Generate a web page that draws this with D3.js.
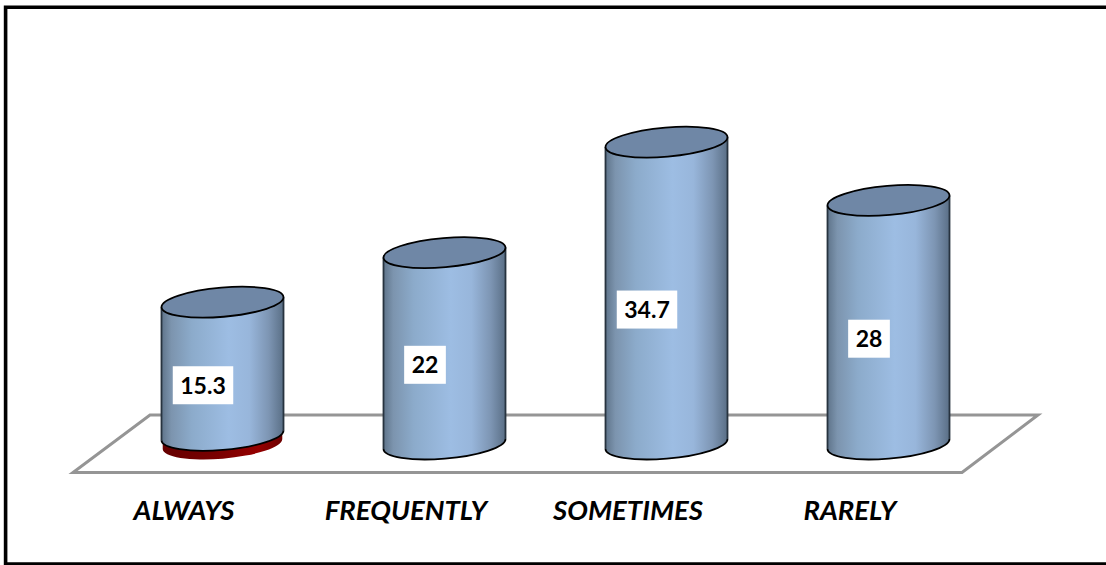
<!DOCTYPE html>
<html>
<head>
<meta charset="utf-8">
<script src="https://cdn.jsdelivr.net/npm/d3@7"></script>
<style>
  html, body { margin: 0; padding: 0; background: #fff; overflow: hidden; }
  svg { display: block; }
</style>
</head>
<body>
<div id="chart"></div>
<script>
const categories = ['ALWAYS', 'FREQUENTLY', 'SOMETIMES', 'RARELY'];
const values = [15.3, 22, 34.7, 28];
// small red segment that only shows under the first cylinder
const lowerValues = [1, 0, 0, 0];

const W = 1106;
const H = 565;
const svg = d3.select('#chart').append('svg')
  .attr('width', W)
  .attr('height', H)
  .attr('viewBox', `0 0 ${W} ${H}`);

const x = d3.scaleBand().domain(categories).range([111.5, 999.5]);
const y = d3.scaleLinear().domain([0, 40]).range([444, 96]);

// ellipse of the cylinder caps, slightly tilted
const HALF = 61;
const RX = 61.2;
const RY = 14.6;
const TILT = -4.9;
const DY = 5;

const defs = svg.append('defs');
function hGradient(id, stops) {
  const g = defs.append('linearGradient').attr('id', id)
    .attr('x1', 0).attr('x2', 1).attr('y1', 0).attr('y2', 0);
  stops.forEach(s => g.append('stop').attr('offset', s[0]).attr('stop-color', s[1]));
}
hGradient('bodyBlue', [
  [0, '#5f748a'], [0.08, '#7c94ae'], [0.25, '#8cabcb'], [0.55, '#9dbde3'],
  [0.72, '#98b6db'], [0.88, '#7d95b3'], [1, '#5a6f86']
]);
hGradient('bodyRed', [
  [0, '#650000'], [0.5, '#7c0000'], [0.8, '#960000'], [1, '#6c0000']
]);

// floor
const floorPts = [[73, 472.5], [962, 472.5], [1038, 415], [150, 415]];
svg.append('path')
  .attr('d', d3.line()(floorPts) + 'Z')
  .attr('fill', '#fff')
  .attr('stroke', '#959595')
  .attr('stroke-width', 3)
  .attr('stroke-linejoin', 'miter');

const centre = d => x(d) + x.bandwidth() / 2;

function bodyPath(cx, yBase, yTop) {
  return `M${cx - HALF},${yTop + DY}L${cx - HALF},${yBase + DY}` +
    `A${RX},${RY} ${TILT} 0 0 ${cx + HALF},${yBase - DY}` +
    `L${cx + HALF},${yTop - DY}Z`;
}

// red lower segment
categories.forEach((c, i) => {
  if (!lowerValues[i]) return;
  svg.append('path')
    .attr('d', bodyPath(centre(c), y(0), y(lowerValues[i])))
    .attr('transform', `translate(${centre(c)},0) scale(0.98,1) translate(${-centre(c)},0)`)
    .attr('fill', 'url(#bodyRed)');
});

// blue cylinders
categories.forEach((c, i) => {
  const cx = centre(c);
  const yBase = y(lowerValues[i]);
  const yTop = y(lowerValues[i] + values[i]);
  const g = svg.append('g');
  g.append('path')
    .attr('d', bodyPath(cx, yBase, yTop))
    .attr('fill', 'url(#bodyBlue)');
  g.append('path')
    .attr('d', `M${cx - HALF},${yBase + DY}A${RX},${RY} ${TILT} 0 0 ${cx + HALF},${yBase - DY}`)
    .attr('fill', 'none').attr('stroke', '#000').attr('stroke-width', 1.8);
  g.append('path')
    .attr('d', `M${cx - HALF},${yTop + DY}L${cx - HALF},${yBase + DY}M${cx + HALF},${yTop - DY}L${cx + HALF},${yBase - DY}`)
    .attr('fill', 'none').attr('stroke', '#27333f').attr('stroke-width', 1.8);
  g.append('ellipse')
    .attr('rx', RX).attr('ry', RY)
    .attr('transform', `translate(${cx},${yTop}) rotate(${TILT})`)
    .attr('fill', '#6f87a6')
    .attr('stroke', '#000')
    .attr('stroke-width', 1.8);
});

// value labels on white boxes
categories.forEach((c, i) => {
  const bottom = y(lowerValues[i]);
  const top = y(lowerValues[i] + values[i]);
  const cx = centre(c) - 19.5;
  const cy = (bottom + top) / 2 + 16.5;
  const box = svg.append('rect').attr('fill', '#fff');
  const t = svg.append('text')
    .attr('x', cx).attr('y', cy + 8.5)
    .attr('text-anchor', 'middle')
    .style('font-family', 'Lato, sans-serif')
    .style('font-weight', 700)
    .style('font-size', '23px')
    .style('fill', '#000')
    .text(values[i]);
  const w = t.node().getBBox().width + 15;
  box.attr('x', cx - w / 2).attr('y', cy - 19).attr('width', w).attr('height', 38);
});

// category labels
const axis = svg.append('g')
  .attr('transform', 'translate(-38.5,498)')
  .call(d3.axisBottom(x).tickSize(0).tickPadding(0));
axis.select('.domain').remove();
axis.selectAll('text')
  .attr('dy', '0.8em')
  .style('font-family', 'Lato, sans-serif')
  .style('font-weight', 700)
  .style('font-style', 'italic')
  .style('font-size', '27.5px')
  .style('fill', '#000');

// outer frame, runs off the right edge
svg.append('path')
  .attr('d', `M${W + 2},7.3H5.6V564H${W + 2}`)
  .attr('fill', 'none')
  .attr('stroke', '#000')
  .attr('stroke-width', 3.6);
</script>
</body>
</html>
